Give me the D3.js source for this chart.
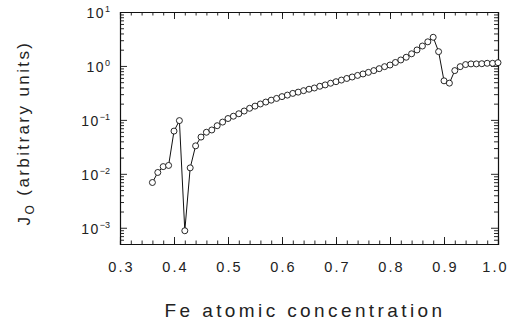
<!DOCTYPE html>
<html>
<head>
<meta charset="utf-8">
<script src="https://cdn.jsdelivr.net/npm/d3@7"></script>
<style>
  html, body { margin: 0; padding: 0; background: #fff; }
  svg { display: block; font-family: "Liberation Sans", Arial, sans-serif; }
</style>
</head>
<body>
<svg id="viz" width="511" height="324"></svg>
<script>
const WIDTH = 511;
const HEIGHT = 324;

// plot frame in pixels
const MARGIN = { top: 12, right: 13, bottom: 80, left: 120 };

// Fe atomic concentration
const xValues = [
  0.36, 0.37, 0.38, 0.39, 0.40, 0.41, 0.42, 0.43, 0.44, 0.45,
  0.46, 0.47, 0.48, 0.49, 0.50, 0.51, 0.52, 0.53, 0.54, 0.55,
  0.56, 0.57, 0.58, 0.59, 0.60, 0.61, 0.62, 0.63, 0.64, 0.65,
  0.66, 0.67, 0.68, 0.69, 0.70, 0.71, 0.72, 0.73, 0.74, 0.75,
  0.76, 0.77, 0.78, 0.79, 0.80, 0.81, 0.82, 0.83, 0.84, 0.85,
  0.86, 0.87, 0.88, 0.89, 0.90, 0.91, 0.92, 0.93, 0.94, 0.95,
  0.96, 0.97, 0.98, 0.99, 1.00
];
// J0 (arbitrary units)
const jValues = [
  0.0069, 0.0106, 0.0136, 0.0143, 0.062, 0.097, 0.00088, 0.0129, 0.033, 0.048,
  0.059, 0.065, 0.078, 0.091, 0.106, 0.117, 0.13, 0.146, 0.164, 0.18,
  0.197, 0.214, 0.232, 0.25, 0.27, 0.288, 0.31, 0.327, 0.348, 0.37,
  0.39, 0.42, 0.445, 0.478, 0.51, 0.547, 0.586, 0.624, 0.668, 0.71,
  0.76, 0.82, 0.89, 0.97, 1.04, 1.16, 1.29, 1.45, 1.68, 1.98,
  2.34, 2.8, 3.4, 1.84, 0.53, 0.48, 0.82, 0.97, 1.06, 1.09,
  1.09, 1.10, 1.12, 1.12, 1.15
];

const xTicks = [0.3, 0.4, 0.5, 0.6, 0.7, 0.8, 0.9, 1.0];
const yTicks = [1e-3, 1e-2, 1e-1, 1e0, 1e1];
const yExponents = ["\u22123", "\u22122", "\u22121", "0", "1"];

const data = xValues.map((x, i) => ({ x, y: jValues[i] }));

const svg = d3.select("#viz");
const x0 = MARGIN.left, x1 = WIDTH - MARGIN.right;
const y0 = MARGIN.top, y1 = HEIGHT - MARGIN.bottom;

const x = d3.scaleLinear().domain([0.3, 1.0]).range([x0, x1]);
const y = d3.scaleLog().domain([5e-4, 10]).range([y1, y0]);

// minor ticks
const xMinor = d3.range(0.3, 1.0001, 0.02).map(v => +v.toFixed(2));
const yMinor = [];
[1e-4, 1e-3, 1e-2, 1e-1, 1e0].forEach(d => {
  for (let k = 2; k <= 9; k++) {
    const v = d * k;
    if (v >= 5e-4 && v <= 10) yMinor.push(v);
  }
});

function styleAxis(sel) {
  sel.selectAll("path.domain").attr("stroke", "#111").attr("stroke-width", 1.1);
  sel.selectAll(".tick line").attr("stroke", "#111").attr("stroke-width", 0.9);
}

// minor tick axes (no labels)
const minorAxes = [
  [d3.axisBottom(x).tickValues(xMinor).tickSize(-3.5), `translate(0,${y1})`],
  [d3.axisTop(x).tickValues(xMinor).tickSize(-3.5), `translate(0,${y0})`],
  [d3.axisLeft(y).tickValues(yMinor).tickSize(-4), `translate(${x0},0)`],
  [d3.axisRight(y).tickValues(yMinor).tickSize(-4), `translate(${x1},0)`]
];
minorAxes.forEach(([ax, tr]) => {
  const g = svg.append("g").attr("transform", tr).call(ax.tickFormat(""));
  styleAxis(g);
});

// major axes
const bottomAxis = svg.append("g")
  .attr("transform", `translate(0,${y1})`)
  .call(d3.axisBottom(x).tickValues(xTicks).tickSize(-7).tickPadding(18)
    .tickFormat(d3.format(".1f")));
styleAxis(bottomAxis);
bottomAxis.selectAll("text")
  .attr("font-size", 14.5)
  .attr("letter-spacing", "2.2px")
  .attr("dx", d => d === 1.0 ? "-3px" : "1px")
  .attr("fill", "#222");

svg.append("g").attr("transform", `translate(0,${y0})`)
  .call(d3.axisTop(x).tickValues(xTicks).tickSize(-7).tickFormat(""))
  .call(styleAxis);

svg.append("g").attr("transform", `translate(${x1},0)`)
  .call(d3.axisRight(y).tickValues(yTicks).tickSize(-7).tickFormat(""))
  .call(styleAxis);

const leftAxis = svg.append("g")
  .attr("transform", `translate(${x0},0)`)
  .call(d3.axisLeft(y).tickValues(yTicks).tickSize(-7).tickPadding(10).tickFormat(""));
styleAxis(leftAxis);

// y tick labels 10^n
leftAxis.selectAll(".tick").each(function (d, i) {
  const t = d3.select(this).select("text")
    .attr("x", -10)
    .attr("dy", "0.38em")
    .attr("text-anchor", "end")
    .attr("font-size", 14)
    .attr("fill", "#222");
  t.append("tspan").attr("letter-spacing", "1.5px").text("10");
  t.append("tspan").attr("font-size", 9).attr("dy", "-0.65em").text(yExponents[i]);
});

// axis titles
svg.append("text")
  .attr("x", 305)
  .attr("y", 317)
  .attr("text-anchor", "middle")
  .attr("font-size", 19)
  .attr("letter-spacing", "3.4px")
  .attr("fill", "#222")
  .text("Fe atomic concentration");

const yTitle = svg.append("text")
  .attr("transform", `translate(30,${(y0 + y1) / 2 + 5}) rotate(-90)`)
  .attr("text-anchor", "middle")
  .attr("font-size", 17)
  .attr("letter-spacing", "2.4px")
  .attr("fill", "#222");
yTitle.append("tspan").text("J");
yTitle.append("tspan").attr("font-size", 12).attr("dy", "0.3em").text("O");
yTitle.append("tspan").attr("dy", "-0.3em").text(" (arbitrary units)");

// line + open circle markers
const line = d3.line().x(d => x(d.x)).y(d => y(d.y));
svg.append("path")
  .datum(data)
  .attr("d", line)
  .attr("fill", "none")
  .attr("stroke", "#111")
  .attr("stroke-width", 1);

svg.append("g")
  .selectAll("circle")
  .data(data)
  .join("circle")
  .attr("cx", d => x(d.x))
  .attr("cy", d => y(d.y))
  .attr("r", 3)
  .attr("fill", "#fff")
  .attr("stroke", "#111")
  .attr("stroke-width", 0.9);
</script>
</body>
</html>
